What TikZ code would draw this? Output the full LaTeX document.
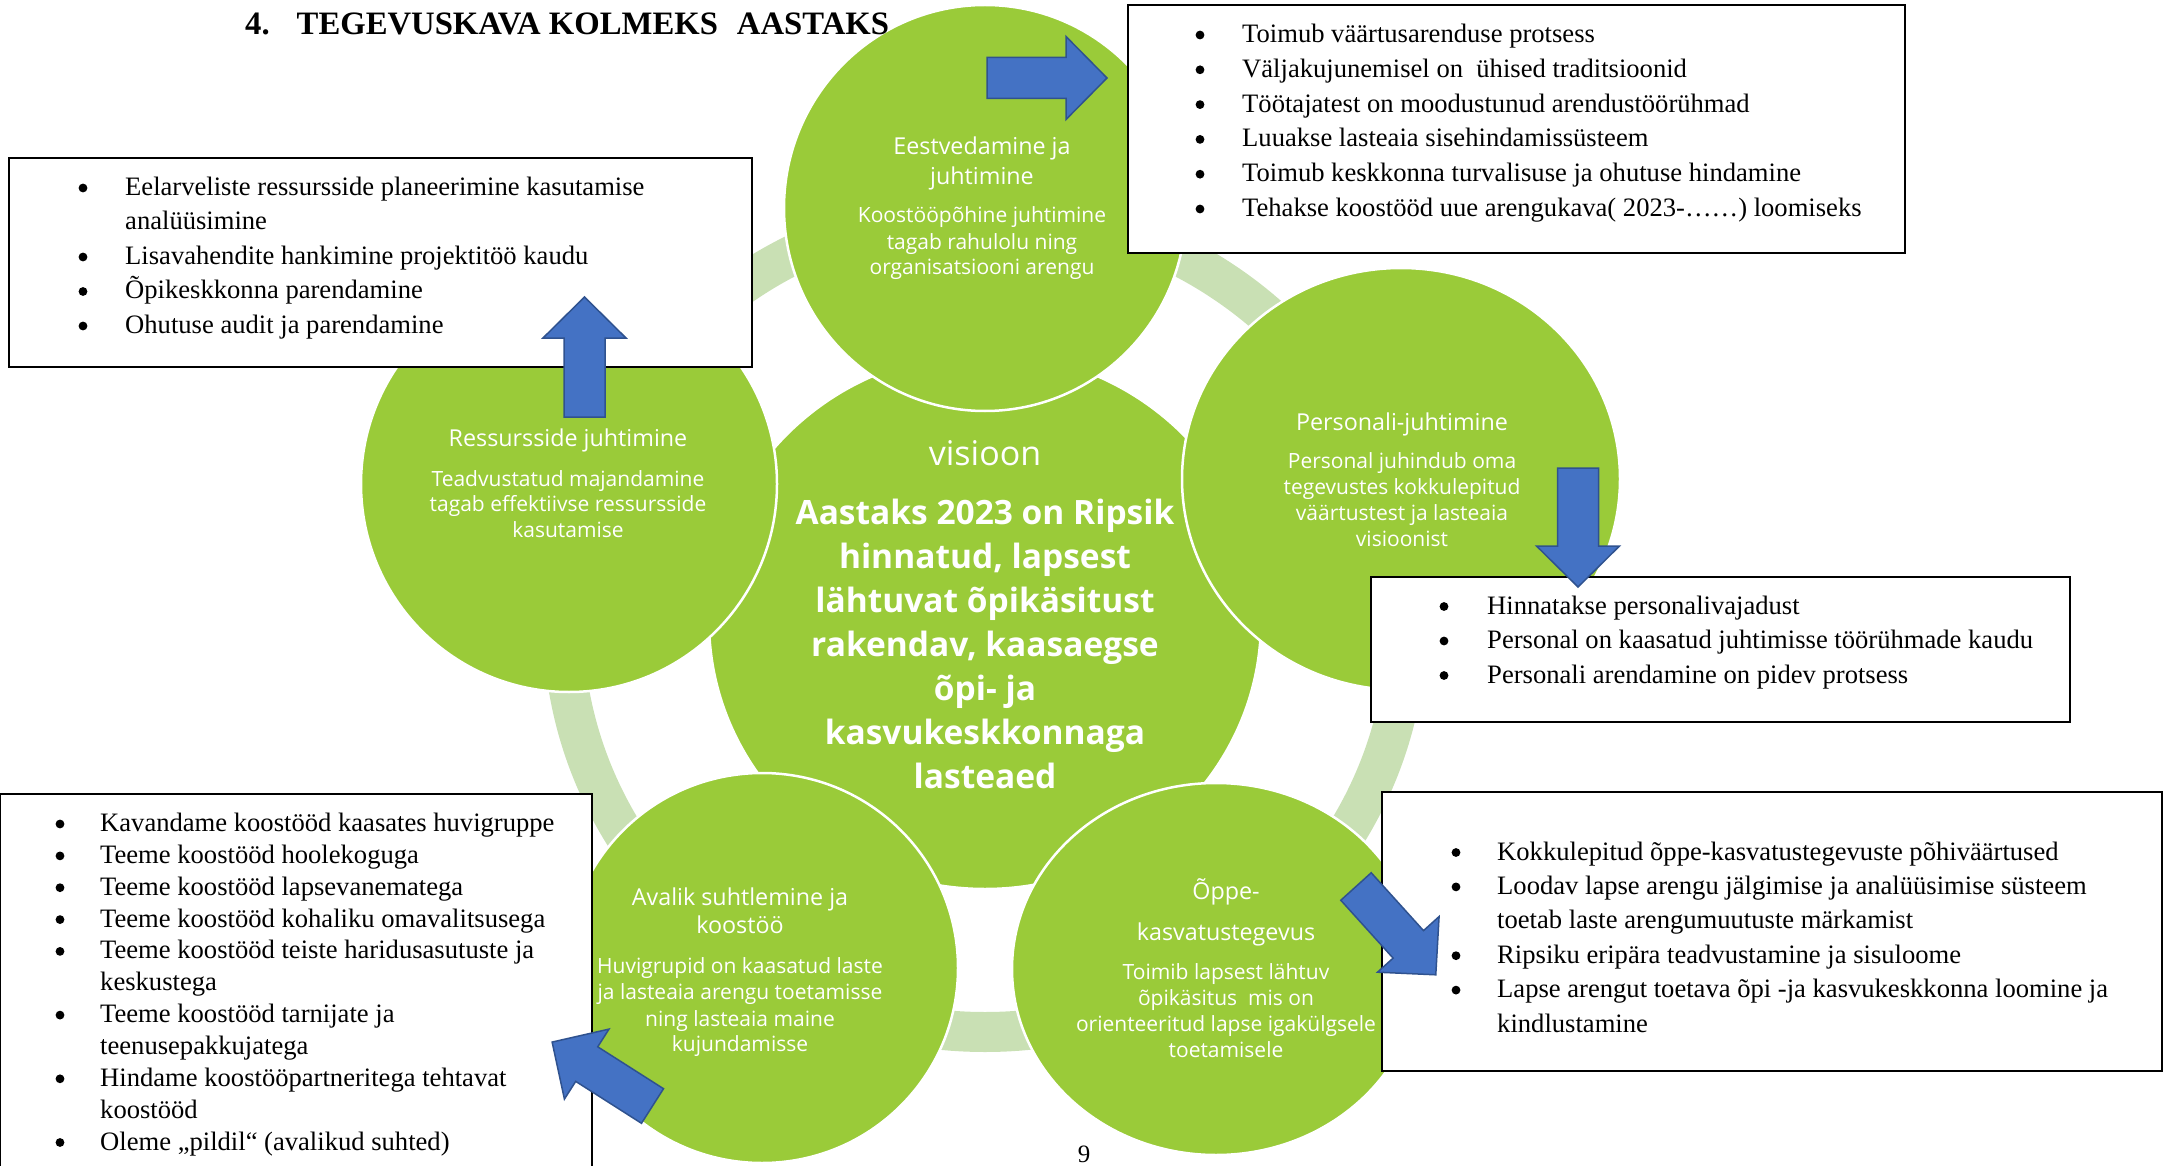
\documentclass[tikz,border=0pt]{standalone}
\usepackage{fontspec}
\setmainfont{Liberation Serif}
\newfontfamily\osans{Open Sans}
\usetikzlibrary{shapes.geometric}
\definecolor{cgreen}{RGB}{154,203,57}
\definecolor{ringgreen}{RGB}{201,224,180}
\definecolor{ablue}{RGB}{68,114,196}
\definecolor{aedge}{RGB}{47,82,143}
\newcommand\blockarrow[3]{%
  \draw[arrowshape, shift={(#1)}, rotate=#2] (0,-20.5) -- ({#3-41},-20.5) -- ({#3-41},-41.5) -- (#3,0) -- ({#3-41},41.5) -- ({#3-41},20.5) -- (0,20.5) -- cycle;}
\begin{document}
\begin{tikzpicture}[x=1pt,y=-1pt,
  bubble/.style={ellipse, draw=white, line width=2.5pt, fill=cgreen, inner sep=0pt, outer sep=0pt},
  ringline/.style={draw=ringgreen, line width=40pt},
  boxframe/.style={rectangle, draw=black, line width=2.2pt, fill=white, inner sep=0pt, anchor=north west},
  boxtxt/.style={anchor=base west, inner sep=0pt, font=\fontsize{26.6}{30}\selectfont},
  boxdot/.style={circle, fill=black, inner sep=0pt, minimum size=8.8pt, yshift=7.5pt},
  ctitle/.style={anchor=base, inner sep=0pt, text=white, font=\osans\fontsize{23.3}{28}\selectfont},
  cbody/.style={anchor=base, inner sep=0pt, text=white, font=\osans\fontsize{21}{26}\selectfont},
  vbold/.style={anchor=base, inner sep=0pt, text=white, font=\osans\bfseries\fontsize{33.5}{44}\selectfont},
  arrowshape/.style={fill=ablue, draw=aedge, line width=1.5pt, line join=miter},
]
\useasboundingbox (0,0) rectangle (2163,1166);
\clip (0,0) rectangle (2163,1166);

% ring
\draw[ringline] (985,621) ellipse [x radius=422pt, y radius=411pt];

% circles
\node[bubble, minimum width=552pt, minimum height=536pt] (V) at (985,621) {};
\node[bubble, minimum width=402pt, minimum height=406pt] (T) at (985,208) {};
\node[bubble, minimum width=416pt, minimum height=416pt] (L) at (569,484) {};
\node[bubble, minimum width=438pt, minimum height=422pt] (R) at (1401,479) {};
\node[bubble, minimum width=392pt, minimum height=390pt] (BL) at (762,968) {};
\node[bubble, minimum width=408pt, minimum height=372pt] (BR) at (1216,969) {};

% center text
\node[anchor=base, inner sep=0pt, text=white, font=\osans\fontsize{34}{40}\selectfont] (vis) at (985,465) {visioon};
\foreach \t/\y [count=\i] in {{Aastaks 2023 on Ripsik}/524, {hinnatud, lapsest}/568, {lähtuvat õpikäsitust}/612, {rakendav, kaasaegse}/656, {õpi- ja}/700, {kasvukeskkonnaga}/744, {lasteaed}/788}
  \node[vbold] (vb\i) at (985,\y) {\t};

% top circle text
\foreach \t/\y [count=\i] in {{Eestvedamine ja}/155, {juhtimine}/185}
  \node[ctitle] (tt\i) at (982,\y) {\t};
\foreach \t/\y [count=\i] in {{Koostööpõhine juhtimine}/222.7, {tagab rahulolu ning}/249.3, {organisatsiooni arengu}/275}
  \node[cbody] (tb\i) at (982,\y) {\t};
% left circle text
\node[ctitle] (lt1) at (568,446.7) {Ressursside juhtimine};
\foreach \t/\y [count=\i] in {{Teadvustatud majandamine}/486, {tagab effektiivse ressursside}/511.7, {kasutamise}/537.3}
  \node[cbody] (lb\i) at (568,\y) {\t};
% right circle text
\node[ctitle] (rt1) at (1402,430) {Personali-juhtimine};
\foreach \t/\y [count=\i] in {{Personal juhindub oma}/468.3, {tegevustes kokkulepitud}/494.3, {väärtustest ja lasteaia}/520, {visioonist}/546}
  \node[cbody] (rb\i) at (1402,\y) {\t};
% bottom-left circle text
\foreach \t/\y [count=\i] in {{Avalik suhtlemine ja}/905, {koostöö}/933.3}
  \node[ctitle] (blt\i) at (740,\y) {\t};
\foreach \t/\y [count=\i] in {{Huvigrupid on kaasatud laste}/973.3, {ja lasteaia arengu toetamisse}/999.3, {ning lasteaia maine}/1026, {kujundamisse}/1051.7}
  \node[cbody] (blb\i) at (740,\y) {\t};
% bottom-right circle text
\foreach \t/\y [count=\i] in {{Õppe-}/899.3, {kasvatustegevus}/940}
  \node[ctitle] (brt\i) at (1226,\y) {\t};
\foreach \t/\y [count=\i] in {{Toimib lapsest lähtuv}/979, {õpikäsitus\ \ mis on}/1005, {orienteeritud lapse igakülgsele}/1031.7, {toetamisele}/1057.7}
  \node[cbody] (brb\i) at (1226,\y) {\t};

% boxes
\node[boxframe, minimum width=743pt, minimum height=209pt] (boxTL) at (8,157) {};
\node[boxframe, minimum width=777pt, minimum height=248pt] (boxTR) at (1127,4) {};
\node[boxframe, minimum width=699pt, minimum height=145pt] (boxR) at (1370,576) {};
\node[boxframe, minimum width=780pt, minimum height=279pt] (boxBR) at (1381,791) {};
\node[boxframe, minimum width=592pt, minimum height=420pt] (boxBL) at (-1,793) {};

% box texts
\foreach \t/\y [count=\i] in {{Eelarveliste ressursside planeerimine kasutamise}/195.5, {analüüsimine}/230, {Lisavahendite hankimine projektitöö kaudu}/264.5, {Õpikeskkonna parendamine}/299, {Ohutuse audit ja parendamine}/333.5}
  \node[boxtxt] (tlx\i) at (125,\y) {\t};
\foreach \y [count=\i] in {195.5,264.5,299,333.5}
  \node[boxdot] (tld\i) at (83,\y) {};

\foreach \t/\y [count=\i] in {{Toimub väärtusarenduse protsess}/42.5, {Väljakujunemisel on\ \ ühised traditsioonid}/77.3, {Töötajatest on moodustunud arendustöörühmad}/112.1, {Luuakse lasteaia sisehindamissüsteem}/146.9, {Toimub keskkonna turvalisuse ja ohutuse hindamine}/181.7, {Tehakse koostööd uue arengukava( 2023-……) loomiseks}/216.5}
  {\node[boxtxt] (trx\i) at (1242,\y) {\t};
   \node[boxdot] (trd\i) at (1200,\y) {};}

\foreach \t/\y [count=\i] in {{Hinnatakse personalivajadust}/614, {Personal on kaasatud juhtimisse töörühmade kaudu}/648.5, {Personali arendamine on pidev protsess}/683}
  {\node[boxtxt] (rx\i) at (1487,\y) {\t};
   \node[boxdot] (rd\i) at (1444,\y) {};}

\foreach \t/\y [count=\i] in {{Kokkulepitud õppe-kasvatustegevuste põhiväärtused}/860, {Loodav lapse arengu jälgimise ja analüüsimise süsteem}/894.4, {toetab laste arengumuutuste märkamist}/928.8, {Ripsiku eripära teadvustamine ja sisuloome}/963.2, {Lapse arengut toetava õpi -ja kasvukeskkonna loomine ja}/997.6, {kindlustamine}/1032}
  \node[boxtxt] (brx\i) at (1497,\y) {\t};
\foreach \y [count=\i] in {860,894.4,963.2,997.6}
  \node[boxdot] (brd\i) at (1456,\y) {};

\foreach \t/\y [count=\i] in {{Kavandame koostööd kaasates huvigruppe}/831.5, {Teeme koostööd hoolekoguga}/863.4, {Teeme koostööd lapsevanematega}/895.2, {Teeme koostööd kohaliku omavalitsusega}/927.1, {Teeme koostööd teiste haridusasutuste ja}/958.9, {keskustega}/990.8, {Teeme koostööd tarnijate ja}/1022.6, {teenusepakkujatega}/1054.5, {Hindame koostööpartneritega tehtavat}/1086.3, {koostööd}/1118.2, {Oleme „pildil“ (avalikud suhted)}/1150}
  \node[boxtxt] (blx\i) at (100,\y) {\t};
\foreach \y [count=\i] in {831.5,863.4,895.2,927.1,958.9,1022.6,1086.3,1150}
  \node[boxdot] (bld\i) at (60,\y) {};

% title and page number
\node[anchor=base west, inner sep=0pt, font=\bfseries\fontsize{32.7}{36}\selectfont] (title) at (245,35) {4.\hspace{27pt}TEGEVUSKAVA KOLMEKS\hspace{19pt}AASTAKS};
\node[anchor=base, inner sep=0pt, font=\fontsize{25}{30}\selectfont] (pg) at (1084,1162) {9};

% block arrows
\coordinate (a1) at (987,78);
\coordinate (a2) at (1578,468);
\coordinate (a3) at (584.5,417);
\coordinate (a4) at (652.5,1106);
\coordinate (a5) at (1356,886.5);
\blockarrow{a1}{0}{120}
\blockarrow{a2}{-90}{119}
\blockarrow{a3}{90}{120}
\blockarrow{a4}{147.5}{119}
\blockarrow{a5}{-47.9}{119}
\end{tikzpicture}
\end{document}
